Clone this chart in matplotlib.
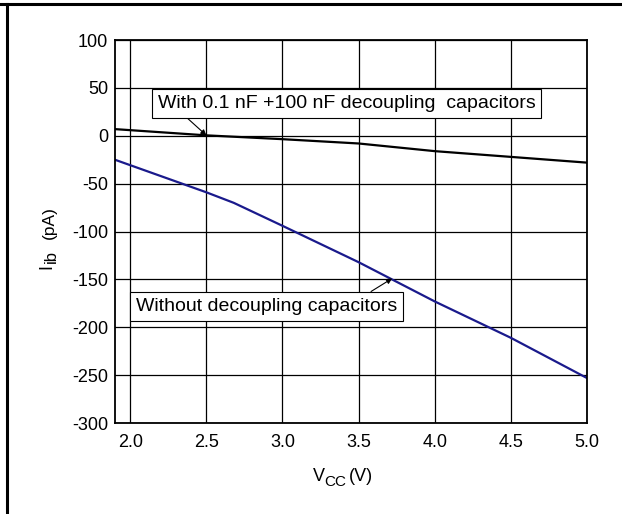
import numpy as np
import matplotlib
matplotlib.use("Agg")
import matplotlib.pyplot as plt
from matplotlib.lines import Line2D

# values
vcc_with = [1.9, 2.5, 3.0, 3.5, 4.0, 4.5, 5.0]
ib_with = [7, 0.5, -3.5, -8, -16, -22, -28]

vcc_without = [1.9, 2.5, 2.68, 3.0, 3.5, 4.0, 4.5, 5.0]
ib_without = [-25, -59, -70, -94, -132, -173, -211, -253]

xticks = [2.0, 2.5, 3.0, 3.5, 4.0, 4.5, 5.0]
xticklabels = ["2.0", "2.5", "3.0", "3.5", "4.0", "4.5", "5.0"]
yticks = [100, 50, 0, -50, -100, -150, -200, -250, -300]

plt.rcParams['font.family'] = ['Liberation Sans', 'DejaVu Sans']
plt.rcParams['font.size'] = 13

W, H = 622, 514
fig = plt.figure(figsize=(W / 100, H / 100), dpi=100)
ax = fig.add_axes([0.1849, 0.177, 0.7588, 0.745])

def px(x, y):
    # pixel position (from top left) -> figure fraction
    return x / W, 1 - y / H

ax.set_xlim(1.9, 5.0)
ax.set_ylim(-300, 100)
ax.set_xticks(xticks)
ax.set_xticklabels(xticklabels)
ax.set_yticks(yticks)
ax.set_yticklabels([str(v) for v in yticks])
ax.tick_params(axis="x", length=0, pad=8, labelsize=13)
ax.tick_params(axis="y", length=0, pad=5, labelsize=13)
ax.grid(True, color="black", linewidth=0.9)
for s in ax.spines.values():
    s.set_linewidth(1.3)

ax.plot(vcc_with, ib_with, color="black", linewidth=1.6)
ax.plot(vcc_without, ib_without, color="#1a1a8c", linewidth=1.6)

box = dict(boxstyle="square,pad=0.3", facecolor="white", edgecolor="black", linewidth=0.8)
ax.annotate("With 0.1 nF +100 nF decoupling  capacitors", xy=(2.5, 0.5), xytext=(2.18, 34),
            fontsize=14, va="center", ha="left", bbox=box,
            arrowprops=dict(arrowstyle="-|>", color="black", lw=0.8, mutation_scale=8,
                            shrinkA=0, shrinkB=0, relpos=(0.06, 0.0)))
ax.annotate("Without decoupling capacitors", xy=(3.72, -149), xytext=(2.04, -178),
            fontsize=14, va="center", ha="left", bbox=box,
            arrowprops=dict(arrowstyle="-|>", color="black", lw=0.8, mutation_scale=8,
                            shrinkA=0, shrinkB=0, relpos=(0.86, 1.0)))

# axis labels with near full-size subscripts
lab = dict(ha="left", va="baseline", rotation_mode="anchor")
fig.text(*px(312.5, 481), "V", fontsize=13, **lab)
fig.text(*px(324, 486), "CC", fontsize=11, **lab)
fig.text(*px(349, 481), "(V)", fontsize=13, **lab)

fig.text(*px(51, 269), "I", fontsize=13, rotation=90, **lab)
fig.text(*px(56, 263), "ib", fontsize=12, rotation=90, **lab)
fig.text(*px(54, 239), "(pA)", fontsize=12.5, rotation=90, **lab)

# page frame lines
fig.add_artist(Line2D([0, 1], [1 - 3.5 / H, 1 - 3.5 / H], color="black", linewidth=2.2,
                      transform=fig.transFigure))
fig.add_artist(Line2D([7.5 / W, 7.5 / W], [0, 1 - 3.5 / H], color="black", linewidth=2.2,
                      transform=fig.transFigure))

plt.savefig("out.png", dpi=100)
